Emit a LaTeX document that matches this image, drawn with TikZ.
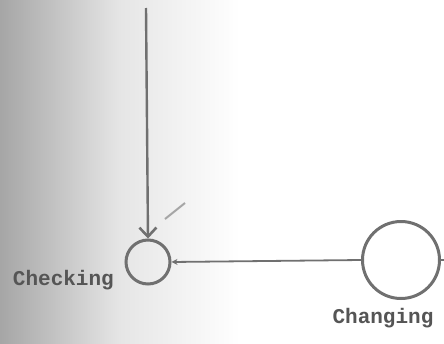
\documentclass[tikz,border=0pt]{standalone}
\usepackage{fontspec}
\setmonofont{Liberation Mono}
\usepackage{tikz}
\usetikzlibrary{arrows.meta, positioning, calc}
\definecolor{inkgray}{RGB}{112,112,112}
\definecolor{txtgray}{RGB}{85,85,85}
\tikzset{
    state/.style={circle, draw=inkgray, line width=3pt, inner sep=0pt},
    flow/.style={inkgray, line width=2.4pt},
    statelbl/.style={font=\fontsize{21}{24}\selectfont\ttfamily\bfseries, text=txtgray, inner sep=0pt},
}

\begin{document}
\begin{tikzpicture}[x=1pt, y=1pt]

\useasboundingbox (0,0) rectangle (444,-343);
\shade[left color=black!35, right color=white, middle color=black!10, draw=none] (0,0) rectangle (240,-343);

\node[state, minimum size=44pt] (chk) at (148,-262) {};
\node[state, minimum size=77pt] (chg) at (401,-260) {};

\node[statelbl, anchor=east] (chklbl) at (114,-280) {Checking};
\node[statelbl, anchor=north] (chglbl) at (383,-308) {Changing};

\coordinate (top) at (146,-8);
\coordinate (out) at (444,-260);
\coordinate (tickA) at (165,-219);
\coordinate (tickB) at (185,-203);

\draw[flow, -{Straight Barb[length=9pt, width=17pt, line width=2.6pt]}] (top) -- (chk.north);
\draw[flow, line width=1.8pt, -{Stealth[length=6pt, width=6pt]}] (chg.west) -- (chk.east);
\draw[flow] (chg.east) -- (out);
\draw[black!35, line width=2pt] (tickA) -- (tickB);

\end{tikzpicture}
\end{document}
